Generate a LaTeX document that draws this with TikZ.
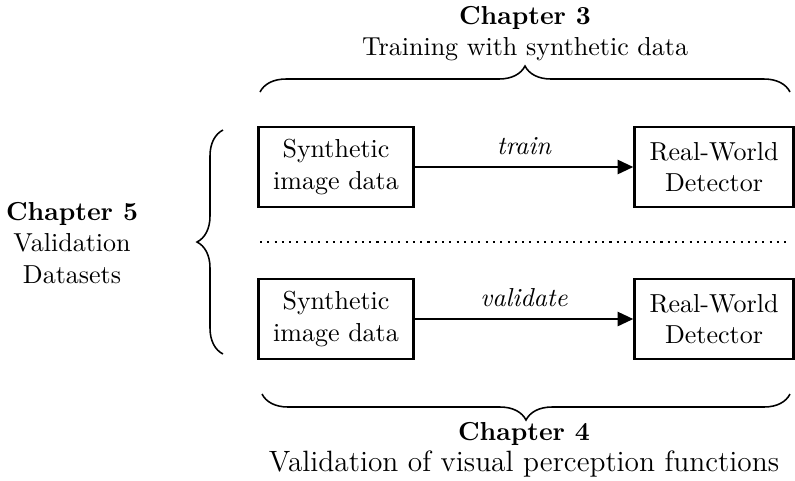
\documentclass[tikz,border=0pt]{standalone}
\usetikzlibrary{arrows.meta,decorations.pathreplacing}
\begin{document}
\begin{tikzpicture}[x=0.3846pt,y=-0.3846pt,
  databox/.style={draw,line width=0.9pt,align=center,inner sep=0pt,minimum height=30.8pt},
  leftbox/.style={databox,minimum width=59.6pt},
  rightbox/.style={databox,minimum width=61.2pt},
  flow/.style={line width=0.9pt,-{Triangle[length=6pt,width=5.4pt]}},
  flowlabel/.style={font=\itshape,above=1pt,midway},
  curly/.style={semithick,decorate,decoration={brace,amplitude=10pt}},
  caption/.style={align=center}]
\useasboundingbox (0,0) rectangle (795,480);

% top row: training
\node[leftbox]  (synA) at (336,167) {Synthetic\\image data};
\node[rightbox] (detA) at (714,167) {Real-World\\Detector};
\draw[flow] (synA) -- (detA) node[flowlabel] (lblA) {train};

% separator
\coordinate (sepL) at (260,242);
\coordinate (sepR) at (790,242);
\draw[thick,dotted] (sepL) -- (sepR);

% bottom row: validation
\node[leftbox]  (synB) at (336,319) {Synthetic\\image data};
\node[rightbox] (detB) at (714,319) {Real-World\\Detector};
\draw[flow] (synB) -- (detB) node[flowlabel] (lblB) {validate};

% chapter braces
\coordinate (topL) at (260,92);
\coordinate (topR) at (790,92);
\draw[curly] (topL) -- (topR);
\node[caption] (ch3) at (525,34) {\textbf{Chapter 3}\\Training with synthetic data};

\coordinate (botR) at (790,394);
\coordinate (botL) at (262,394);
\draw[curly] (botR) -- (botL);
\node[caption] (ch4) at (524,450) {\textbf{Chapter 4}\\{\fontsize{11.3}{13}\selectfont Validation of visual perception functions}};

\coordinate (lftB) at (223,354);
\coordinate (lftT) at (223,130);
\draw[curly] (lftB) -- (lftT);
\node[caption] (ch5) at (72,243) {\textbf{Chapter 5}\\Validation\\Datasets};
\end{tikzpicture}
\end{document}
